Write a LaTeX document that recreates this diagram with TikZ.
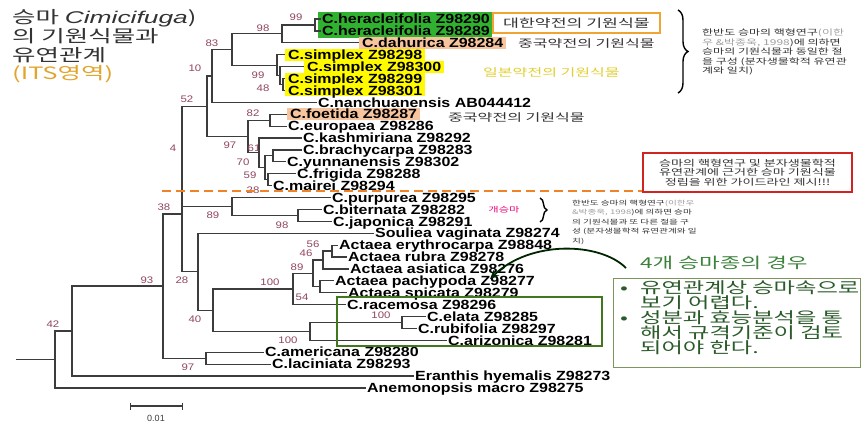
\documentclass[tikz,border=0pt]{standalone}
\usepackage{fontspec}
\usetikzlibrary{arrows.meta,decorations.pathreplacing}
\setmainfont{Liberation Sans}
\newfontfamily\taxfont[FakeStretch=1.2]{Liberation Sans}
\newfontfamily\titleit[FakeStretch=1.55]{Liberation Sans}
\newfontfamily\krfont[FakeStretch=1.5]{Noto Sans CJK KR}
\definecolor{branchgray}{HTML}{3C3C3C}
\definecolor{bootred}{RGB}{145,70,95}
\definecolor{herbgreen}{RGB}{48,178,48}
\definecolor{simpyellow}{RGB}{255,250,0}
\definecolor{peach}{RGB}{247,196,158}
\definecolor{boxorange}{RGB}{240,165,50}
\definecolor{jpyellow}{RGB}{225,208,50}
\definecolor{cutorange}{RGB}{240,130,40}
\definecolor{guidered}{RGB}{210,35,35}
\definecolor{racegreen}{RGB}{65,120,30}
\definecolor{casegreen}{RGB}{60,130,60}
\definecolor{caseframe}{RGB}{125,150,95}
\definecolor{notegray}{HTML}{333333}
\definecolor{refgray}{HTML}{A0A0A0}
\definecolor{ititle}{RGB}{225,165,45}

\begin{document}
\begin{tikzpicture}[x=1pt,y=-1pt,>=Stealth,
    branch/.style={draw=branchgray,line width=1.2pt},
    taxon/.style={anchor=west,inner xsep=1.5pt,inner ysep=0pt,text height=9.5pt,text depth=0pt,
        font=\taxfont\bfseries\fontsize{13.3}{14}\selectfont},
    simpbox/.style={fill=simpyellow,inner xsep=3pt,inner ysep=1.2pt},
    peachbox/.style={fill=peach,inner xsep=3pt,inner ysep=1.2pt},
    boot/.style={inner sep=0pt,text=bootred,font=\taxfont\fontsize{9.5}{10}\selectfont},
    krlabel/.style={anchor=west,inner sep=0pt,text=notegray,font=\krfont\fontsize{10.7}{12}\selectfont},
    krtitle/.style={anchor=base west,inner sep=0pt,text=notegray,font=\krfont\fontsize{17}{20}\selectfont},
    smallnote/.style={anchor=north west,inner sep=0pt,align=left,text=notegray},
    grpbrace/.style={decorate,decoration={brace,amplitude=#1},line width=1.4pt},
    cutline/.style={draw=cutorange,line width=2pt,dash pattern=on 9pt off 5pt}]

    % canvas
    \fill[white] (0,0) rectangle (863,423);
    \useasboundingbox (0,0) rectangle (863,423);

    % title
    \node[krtitle] (title1) at (12,23.5) {승마 {\titleit\itshape Cimicifuga})};
    \node[krtitle] (title2) at (12,42) {의 기원식물과};
    \node[krtitle] (title3) at (12,61) {유연관계};
    \node[krtitle,text=ititle] (title4) at (12,79.5) {(ITS영역)};

    % green box behind the two heracleifolia
    \fill[herbgreen] (318,12) rectangle (492,37.5);

    % taxa
    \node[taxon] (t1) at (320.5,19.0) {C.heracleifolia Z98290};
    \node[taxon] (t2) at (320.5,30.9) {C.heracleifolia Z98289};
    \node[taxon,peachbox] (t3) at (359,42.8) {C.dahurica Z98284};
    \node[taxon,simpbox] (t4) at (285,54.7) {C.simplex Z98298};
    \node[taxon,simpbox] (t5) at (304,66.6) {C.simplex Z98300};
    \node[taxon,simpbox] (t6) at (285,78.5) {C.simplex Z98299};
    \node[taxon,simpbox] (t7) at (285,90.4) {C.simplex Z98301};
    \node[taxon] (t8) at (316.5,102.3) {C.nanchuanensis AB044412};
    \node[taxon,peachbox] (t9) at (287,114.2) {C.foetida Z98287};
    \node[taxon] (t10) at (286.5,126.1) {C.europaea Z98286};
    \node[taxon] (t11) at (301.5,138.0) {C.kashmiriana Z98292};
    \node[taxon] (t12) at (301.5,149.9) {C.brachycarpa Z98283};
    \node[taxon] (t13) at (285.5,161.8) {C.yunnanensis Z98302};
    \node[taxon] (t14) at (295.5,173.7) {C.frigida Z98288};
    \node[taxon] (t15) at (271.5,185.6) {C.mairei Z98294};
    \node[taxon] (t16) at (330.5,197.5) {C.purpurea Z98295};
    \node[taxon] (t17) at (321.5,209.4) {C.biternata Z98282};
    \node[taxon] (t18) at (331.5,221.3) {C.japonica Z98291};
    \node[taxon] (t19) at (373.5,233.2) {Souliea vaginata Z98274};
    \node[taxon] (t20) at (337.5,245.1) {Actaea erythrocarpa Z98848};
    \node[taxon] (t21) at (346.5,257.0) {Actaea rubra Z98278};
    \node[taxon] (t22) at (348.5,268.9) {Actaea asiatica Z98276};
    \node[taxon] (t23) at (333.5,280.8) {Actaea pachypoda Z98277};
    \node[taxon] (t24) at (346.5,292.7) {Actaea spicata Z98279};
    \node[taxon] (t25) at (345.5,304.6) {C.racemosa Z98296};
    \node[taxon] (t26) at (425.5,316.5) {C.elata Z98285};
    \node[taxon] (t27) at (416.5,328.4) {C.rubifolia Z98297};
    \node[taxon] (t28) at (446.5,340.3) {C.arizonica Z98281};
    \node[taxon] (t29) at (263.5,352.2) {C.americana Z98280};
    \node[taxon] (t30) at (270.5,364.1) {C.laciniata Z98293};
    \node[taxon] (t31) at (413.5,376.0) {Eranthis hyemalis Z98273};
    \node[taxon] (t32) at (365.5,387.9) {Anemonopsis macro Z98275};

    % inner nodes of the tree
    \coordinate (nA) at (315,24.95);
    \coordinate (nB) at (282,33.88);
    \coordinate (nF) at (283,84.45);
    \coordinate (nE) at (280,75.53);
    \coordinate (nD) at (277,65.11);
    \coordinate (nC) at (232,49.49);
    \coordinate (nX) at (212,75.9);
    \coordinate (nP82) at (270,120.15);
    \coordinate (nM70) at (273,155.85);
    \coordinate (nR) at (268,179.65);
    \coordinate (nQ) at (265,167.75);
    \coordinate (nK) at (259,152.88);
    \coordinate (nJ) at (248,136.51);
    \coordinate (nN) at (207,106.2);
    \coordinate (nS) at (298,215.35);
    \coordinate (nT) at (232,206.43);
    \coordinate (nI) at (182,156.3);
    \coordinate (nP56) at (332,251.05);
    \coordinate (nP46) at (323,259.98);
    \coordinate (nH) at (320,286.75);
    \coordinate (nP89) at (313,273.36);
    \coordinate (nB100) at (293,288.98);
    \coordinate (nI100) at (402,322.45);
    \coordinate (nC100) at (310,331.38);
    \coordinate (nA40) at (213,310.18);
    \coordinate (nZ) at (198,271.69);
    \coordinate (nY) at (182,214.0);
    \coordinate (nV) at (206,358.15);
    \coordinate (nW) at (163,286.08);
    \coordinate (nU) at (72,331.04);
    \coordinate (nRoot) at (55,359.47);
    \coordinate (rootL) at (16,359.47);

    % branches
    \draw[branch] (nA) |- (t1) (nA) |- (t2);
    \draw[branch] (nB) |- (nA) (nB) |- (t3);
    \draw[branch] (nF) |- (t6) (nF) |- (t7);
    \draw[branch] (nE) |- (t5) (nE) |- (nF);
    \draw[branch] (nD) |- (t4) (nD) |- (nE);
    \draw[branch] (nC) |- (nB) (nC) |- (nD);
    \draw[branch] (nX) |- (nC) (nX) |- (t8);
    \draw[branch] (nP82) |- (t9) (nP82) |- (t10);
    \draw[branch] (nM70) |- (t12) (nM70) |- (t13);
    \draw[branch] (nR) |- (t14) (nR) |- (t15);
    \draw[branch] (nQ) |- (nM70) (nQ) |- (nR);
    \draw[branch] (nK) |- (t11) (nK) |- (nQ);
    \draw[branch] (nJ) |- (nP82) (nJ) |- (nK);
    \draw[branch] (nN) |- (nX) (nN) |- (nJ);
    \draw[branch] (nS) |- (t17) (nS) |- (t18);
    \draw[branch] (nT) |- (t16) (nT) |- (nS);
    \draw[branch] (nI) |- (nN) (nI) |- (nT);
    \draw[branch] (nP56) |- (t20) (nP56) |- (t21);
    \draw[branch] (nP46) |- (nP56) (nP46) |- (t22);
    \draw[branch] (nH) |- (t23) (nH) |- (t24);
    \draw[branch] (nP89) |- (nP46) (nP89) |- (nH);
    \draw[branch] (nB100) |- (nP89) (nB100) |- (t25);
    \draw[branch] (nI100) |- (t26) (nI100) |- (t27);
    \draw[branch] (nC100) |- (nI100) (nC100) |- (t28);
    \draw[branch] (nA40) |- (nB100) (nA40) |- (nC100);
    \draw[branch] (nZ) |- (t19) (nZ) |- (nA40);
    \draw[branch] (nY) |- (nI) (nY) |- (nZ);
    \draw[branch] (nV) |- (t29) (nV) |- (t30);
    \draw[branch] (nW) |- (nY) (nW) |- (nV);
    \draw[branch] (nU) |- (nW) (nU) |- (t31);
    \draw[branch] (nRoot) |- (nU) (nRoot) |- (t32);
    \draw[branch] (rootL) -- (nRoot);

    % bootstrap values
    \node[boot] (bs1) at (296,17) {99};
    \node[boot] (bs2) at (263,28) {98};
    \node[boot] (bs3) at (212,43) {83};
    \node[boot] (bs4) at (258,75) {99};
    \node[boot] (bs5) at (263,88) {48};
    \node[boot] (bs6) at (195,68) {10};
    \node[boot] (bs7) at (187,99) {52};
    \node[boot] (bs8) at (253,113) {82};
    \node[boot] (bs9) at (230,145) {97};
    \node[boot] (bs10) at (254,148) {61};
    \node[boot] (bs11) at (243,162) {70};
    \node[boot] (bs12) at (250,175) {59};
    \node[boot] (bs13) at (253,190) {28};
    \node[boot] (bs14) at (173,148) {4};
    \node[boot] (bs15) at (164,207) {38};
    \node[boot] (bs16) at (213,215) {89};
    \node[boot] (bs17) at (282,225) {98};
    \node[boot] (bs18) at (313,244) {56};
    \node[boot] (bs19) at (306,253) {46};
    \node[boot] (bs20) at (297,267) {89};
    \node[boot] (bs21) at (270,282) {100};
    \node[boot] (bs22) at (302,297) {54};
    \node[boot] (bs23) at (381,315) {100};
    \node[boot] (bs24) at (288,340) {100};
    \node[boot] (bs25) at (195,319) {40};
    \node[boot] (bs26) at (182,280) {28};
    \node[boot] (bs27) at (147,280) {93};
    \node[boot] (bs28) at (188,367) {97};
    \node[boot] (bs29) at (53,324) {42};

    % scale bar
    \coordinate (sbL) at (130,406);
    \coordinate (sbR) at (183,406);
    \draw[branch,{Bar[width=7pt]}-{Bar[width=7pt]}] (sbL) -- (sbR);
    \node[inner sep=0pt,text=branchgray,font=\fontsize{9}{10}\selectfont] (sbtext) at (156,418) {0.01};

    % pharmacopoeia labels
    \node[krlabel,anchor=center,draw=boxorange,line width=1.8pt,minimum width=167pt,minimum height=20pt,
        font=\krfont\fontsize{11.5}{13}\selectfont] (krkp) at (576.5,23) {대한약전의 기원식물};
    \node[krlabel] (chp1) at (518,43) {중국약전의 기원식물};
    \node[krlabel,text=jpyellow] (jp) at (483,72) {일본약전의 기원식물};
    \node[krlabel] (chp2) at (448,117) {중국약전의 기원식물};

    % karyotype notes
    \coordinate (bTop) at (678,10);
    \coordinate (bBot) at (678,93);
    \draw[grpbrace=10pt] (bTop) -- (bBot);
    \node[smallnote,font=\krfont\fontsize{8}{9.5}\selectfont] (karyo1) at (702,29)
        {한반도 승마의 핵형연구\textcolor{refgray}{(이한}\\
         \textcolor{refgray}{우 \&박종욱, 1998})에 의하면\\
         승마의 기원식물과 동일한 절\\
         을 구성 (분자생물학적 유연관\\
         계와 일치)};

    \node[text=magenta!85!red,inner sep=0pt,font=\krfont\fontsize{7.5}{9}\selectfont] (gae) at (504,210) {개승마};
    \coordinate (cTop) at (540,198);
    \coordinate (cBot) at (540,222);
    \draw[grpbrace=7pt] (cTop) -- (cBot);
    \node[smallnote,font=\krfont\fontsize{6.4}{9.6}\selectfont] (karyo2) at (572,199.5)
        {한반도 승마의 핵형연구\textcolor{refgray}{(이한우}\\
         \textcolor{refgray}{\&박종욱, 1998})에 의하면 승마\\
         의 기원식물과 또 다른 절을 구\\
         성 (분자생물학적 유연관계와 일\\
         치)};

    % guideline box and the cut
    \node[draw=guidered,line width=1.5pt,minimum width=209pt,minimum height=39pt,align=center,
        text=notegray,font=\krfont\fontsize{8.7}{9.3}\selectfont] (guide) at (747.5,172.5)
        {승마의 핵형연구 및 분자생물학적\\유연관계에 근거한 승마 기원식물\\정립을 위한 가이드라인 제시!!!};
    \coordinate (cutL) at (162,191);
    \draw[cutline] (cutL) -- (cutL -| guide.west);

    % north american group
    \draw[racegreen,line width=1.6pt] (337,297) rectangle (602,346);
    \node[draw=caseframe,line width=1pt,minimum width=247pt,minimum height=89pt] (casebox) at (736.5,322.5) {};
    \node[anchor=west,inner sep=0pt,text=casegreen,font=\krfont\fontsize{15}{17}\selectfont] (casetitle) at (640,263)
        {4개 승마종의 경우};
    \node[smallnote,text=casegreen!70!black,font=\krfont\fontsize{15.5}{15}\selectfont] (casetext) at (620,280)
        {\makebox[20pt][l]{•}유연관계상 승마속으로\\
         \hspace*{20pt}보기 어렵다.\\
         \makebox[20pt][l]{•}성분과 효능분석을 통\\
         \hspace*{20pt}해서 규격기준이 검토\\
         \hspace*{20pt}되어야 한다.};
    \coordinate (arrS) at (626,268);
    \coordinate (arrE) at (490,279);
    \draw[line width=1.8pt,draw=black!85!green,-{Stealth[length=9pt,width=8pt]}] (arrS) .. controls (600,242) and (530,240) .. (arrE);
\end{tikzpicture}
\end{document}
